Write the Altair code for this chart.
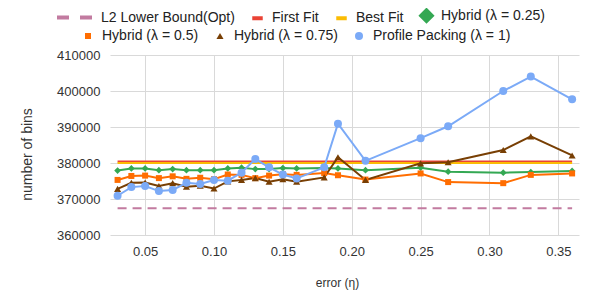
import altair as alt
import pandas as pd

# ---- data ----
x_vals = [0.03, 0.04, 0.05, 0.06, 0.07, 0.08, 0.09, 0.10, 0.11, 0.12, 0.13,
          0.14, 0.15, 0.16, 0.18, 0.19, 0.21, 0.25, 0.27, 0.31, 0.33, 0.36]

l2_bound = [367400] * len(x_vals)
first_fit = [380400] * len(x_vals)
best_fit = [380000] * len(x_vals)
hybrid_025 = [377900, 378500, 378500, 378000, 378300, 378000, 378000, 378000, 378500, 378700, 378300,
              378300, 378600, 378500, 378600, 378500, 378000, 378700, 377600, 377300, 377500, 377800]
hybrid_050 = [375300, 376400, 376500, 375800, 376300, 375600, 375900, 375500, 376800, 376700, 375800,
              376500, 376900, 376700, 377200, 376600, 375400, 377100, 374700, 374400, 376700, 377100]
hybrid_075 = [372800, 374500, 374600, 373600, 374400, 373400, 373700, 372900, 374900, 375300, 375800,
              374800, 375500, 374800, 376000, 381600, 375300, 379900, 380200, 383600, 387400, 382100]
profile = [370900, 373300, 373600, 372200, 372500, 374500, 374200, 375300, 375100, 377300, 381100,
           378800, 376800, 375700, 378800, 390900, 380600, 386900, 390200, 400000, 404000, 397700]

L2 = "L2 Lower Bound(Opt)"
FF = "First Fit"
BF = "Best Fit"
H25 = "Hybrid (λ = 0.25)"
H50 = "Hybrid (λ = 0.5)"
H75 = "Hybrid (λ = 0.75)"
PP = "Profile Packing (λ = 1)"

series_values = {L2: l2_bound, FF: first_fit, BF: best_fit, H25: hybrid_025,
                 H50: hybrid_050, H75: hybrid_075, PP: profile}
colors = {L2: "#c27ba0", FF: "#ea4335", BF: "#fbbc04", H25: "#34a853",
          H50: "#ff6d01", H75: "#783f04", PP: "#7baaf7"}

x_ticks = [0.05, 0.10, 0.15, 0.20, 0.25, 0.30, 0.35]
y_ticks = [360000, 370000, 380000, 390000, 400000, 410000]

rows = []
for name, vals in series_values.items():
    for xv, yv in zip(x_vals, vals):
        rows.append({"series": name, "x": xv, "y": yv})
df = pd.DataFrame(rows)

FONT = "Liberation Sans"

xenc = alt.X("x:Q", scale=alt.Scale(domain=[0.0245, 0.365], nice=False, zero=False),
             axis=alt.Axis(values=x_ticks, format=".2f", title="error (η)", grid=True,
                           domain=False, ticks=False, labelPadding=10,
                           titleX=227, titleY=42, titleBaseline="top", titleAlign="center",
                           labelFontSize=13, titleFontSize=12, titleFontWeight="normal",
                           labelColor="#333", titleColor="#333",
                           labelFont=FONT, titleFont=FONT, gridColor="#d9d9d9"))
yenc = alt.Y("y:Q", scale=alt.Scale(domain=[360000, 410000], nice=False, zero=False),
             axis=alt.Axis(values=y_ticks, format="d", title="number of bins", grid=True,
                           domain=False, ticks=False, labelPadding=10,
                           titleX=-76, titleY=99, titleAngle=270, titleBaseline="bottom",
                           titleAlign="center",
                           labelFontSize=13, titleFontSize=14, titleFontWeight="normal",
                           labelColor="#333", titleColor="#333",
                           labelFont=FONT, titleFont=FONT, gridColor="#d9d9d9"))


def pick(mapping, default):
    """Build a per-entry legend expression: datum.value -> value."""
    expr = f"'{default}'"
    for name, val in reversed(list(mapping.items())):
        expr = f"datum.value === '{name}' ? '{val}' : ({expr})"
    return {"expr": expr}


legend_common = dict(orient="none", direction="horizontal", title=None, labelFont=FONT,
                     labelFontSize=14, labelColor="#222", labelOffset=7, padding=0)

# ---- L2 lower bound (dashed) ----
domL = [L2]
legL = alt.Legend(legendX=-55, legendY=-57, symbolSize=1225, symbolType="stroke",
                  symbolStrokeColor=colors[L2], symbolDash=[12, 11], symbolStrokeWidth=4,
                  columnPadding=8, **legend_common)
l2_layer = alt.Chart(df[df.series.isin(domL)]).mark_line(strokeWidth=2, strokeDash=[9, 6]).encode(
    x=xenc, y=yenc,
    color=alt.Color("series:N", scale=alt.Scale(domain=domL, range=[colors[s] for s in domL]),
                    legend=legL))

# ---- group A: First Fit, Best Fit, Hybrid 0.25 ----
domA = [FF, BF, H25]
scaleA = alt.Scale(domain=domA, range=[colors[s] for s in domA])
legA = alt.Legend(legendX=140, legendY=-47, symbolSize=110,
                  symbolType=pick({H25: "diamond"}, "stroke"),
                  symbolFillColor=pick({H25: colors[H25]}, "transparent"),
                  symbolStrokeColor=pick({FF: colors[FF], BF: colors[BF]}, "transparent"),
                  symbolStrokeWidth=4, columnPadding=9,
                  **legend_common)
linesA = alt.Chart(df[df.series.isin(domA)]).mark_line(strokeWidth=2).encode(
    x=xenc, y=yenc, color=alt.Color("series:N", scale=scaleA, legend=legA),
    order=alt.Order("x:Q"))
pointsA = alt.Chart(df[df.series == H25]).mark_point(filled=True, shape="diamond", size=45, opacity=1).encode(
    x=xenc, y=yenc, color=alt.Color("series:N", scale=scaleA, legend=legA))
groupA = alt.layer(linesA, pointsA)

# ---- group B: Hybrid 0.5, Hybrid 0.75, Profile Packing ----
domB = [H50, H75, PP]
scaleB = alt.Scale(domain=domB, range=[colors[s] for s in domB])
shapeB = alt.Scale(domain=domB, range=["square", "triangle-up", "circle"])
legB = alt.Legend(legendX=-29, legendY=-26, symbolSize=100,
                  symbolType=pick({H50: "square", H75: "triangle-up"}, "circle"),
                  symbolFillColor=pick({H50: colors[H50], H75: colors[H75]}, colors[PP]),
                  symbolStrokeColor="transparent", symbolStrokeWidth=0, columnPadding=14,
                  **legend_common)
linesB = alt.Chart(df[df.series.isin(domB)]).mark_line(strokeWidth=2).encode(
    x=xenc, y=yenc, color=alt.Color("series:N", scale=scaleB, legend=legB),
    order=alt.Order("x:Q"))
pointsB = alt.Chart(df[df.series.isin(domB)]).mark_point(filled=True, opacity=1).encode(
    x=xenc, y=yenc, color=alt.Color("series:N", scale=scaleB, legend=legB),
    shape=alt.Shape("series:N", scale=shapeB, legend=None),
    size=alt.Size("series:N", scale=alt.Scale(domain=domB, range=[36, 64, 49]), legend=None))
groupB = alt.layer(linesB, pointsB)

chart = alt.layer(l2_layer, groupA, groupB).resolve_scale(
    color="independent", shape="independent", size="independent"
).properties(
    width=469, height=180,
    autosize=alt.AutoSizeParams(type="none"),
    padding={"left": 102, "top": 47, "right": 10, "bottom": 57},
).configure_view(stroke=None)

chart.save("out.html", embed_options={"renderer": "svg", "actions": False})
